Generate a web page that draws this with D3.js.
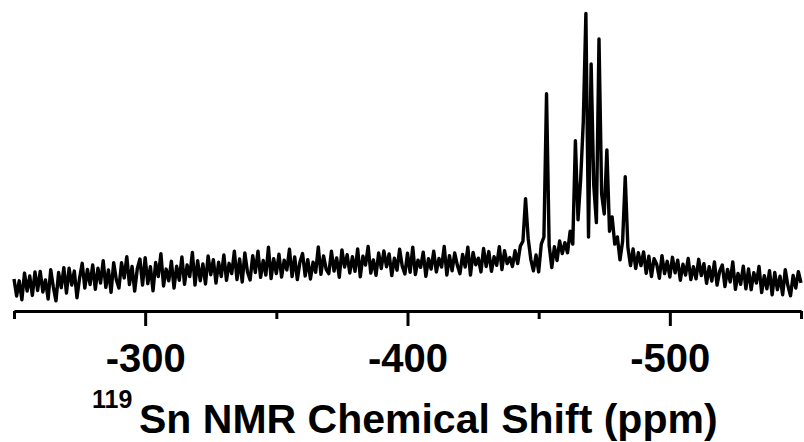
<!DOCTYPE html>
<html>
<head>
<meta charset="utf-8">
<script src="https://cdn.jsdelivr.net/npm/d3@7"></script>
<style>
  body { margin: 0; background: #fff; }
  svg { display: block; }
  .tick text { font-family: "Liberation Sans", Arial, sans-serif; font-weight: bold; }
</style>
</head>
<body>
<svg id="chart" width="804" height="442"></svg>
<script>
// chemical shift grid: -250 ppm down to -550 ppm, one point per ppm
var shiftStart = -250;
var shiftStep = -1;

// intensity (a.u.), rows of 10 ppm
var intensity = [
  7.3, 1.4, 6.7, 0.1, 9.4, 3.1, 8.4, 1.6, 9.8, 3.3,         // -250
  10.0, 2.8, 7.0, 0.3, 10.6, 4.5, -0.3, 9.6, 4.3, 11.3,     // -260
  2.4, 11.1, 5.2, 10.1, 0.8, 7.7, 12.8, 4.2, 10.7, 5.4,     // -270
  12.2, 3.7, 11.1, 5.9, 13.7, 4.4, 10.5, 2.7, 13.0, 7.1,    // -280
  4.2, 13.0, 7.7, 15.1, 5.4, 11.7, 3.1, 10.9, 14.3, 5.2,    // -290
  14.8, 5.7, 11.6, 3.2, 13.1, 8.2, 16.2, 4.9, 10.8, 6.7,    // -300
  13.5, 4.2, 11.8, 6.9, 15.0, 5.5, 12.2, 8.2, 16.6, 5.2,    // -310
  13.7, 6.7, 12.6, 5.6, 15.4, 8.8, 14.1, 5.9, 13.2, 8.2,    // -320
  15.7, 6.9, 12.8, 9.2, 17.0, 7.1, 14.3, 6.3, 16.4, 9.8,    // -330
  7.0, 15.5, 9.6, 17.0, 7.9, 13.8, 8.7, 18.4, 7.5, 14.4,    // -340
  9.2, 16.0, 8.0, 13.9, 10.5, 17.7, 8.2, 15.0, 7.1, 13.3,   // -350
  16.2, 8.4, 14.1, 7.3, 13.2, 9.7, 18.5, 9.0, 15.4, 10.7,   // -360
  9.2, 17.0, 10.1, 14.7, 7.9, 17.5, 11.5, 15.8, 9.4, 15.1,  // -370
  10.0, 17.8, 8.1, 15.3, 12.2, 18.7, 9.4, 14.0, 8.6, 16.4,  // -380
  11.0, 17.1, 11.6, 16.1, 8.5, 14.6, 10.4, 17.7, 11.8, 9.1, // -390
  16.3, 9.7, 18.4, 8.9, 13.9, 11.4, 16.7, 8.3, 14.4, 10.8,  // -400
  17.0, 9.8, 14.5, 11.5, 18.7, 8.7, 15.5, 10.2, 16.4, 12.1, // -410
  9.2, 15.9, 11.5, 18.4, 8.7, 16.6, 12.3, 14.6, 9.8, 18.0,  // -420
  11.7, 16.9, 10.0, 15.1, 12.1, 18.6, 10.6, 17.2, 12.7, 14.8,// -430
  11.7, 17.2, 12.7, 18.8, 20.5, 35.4, 21.5, 14.2, 10.2, 15.7,// -440
  9.8, 19.5, 22.0, 72.0, 19.0, 11.3, 18.6, 13.8, 20.6, 16.2, // -450
  20.0, 16.5, 24.0, 19.5, 55.6, 28.0, 42.0, 62.0, 100, 22.0, // -460
  82.4, 40.0, 27.0, 91.1, 37.0, 30.0, 52.4, 24.0, 29.0, 19.5,// -470
  22.0, 14.0, 20.5, 43.0, 18.5, 12.0, 17.8, 11.0, 16.5, 12.0,// -480
  16.8, 9.3, 15.3, 8.2, 14.4, 12.5, 7.6, 15.5, 9.2, 13.5,    // -490
  8.0, 14.9, 9.5, 13.9, 6.9, 12.5, 8.7, 14.5, 7.1, 11.6,     // -500
  7.4, 14.2, 8.5, 12.7, 5.8, 11.6, 6.6, 13.3, 5.2, 10.1,     // -510
  12.2, 4.7, 10.7, 6.3, 13.3, 3.7, 9.3, 5.5, 11.8, 3.9,      // -520
  10.8, 3.6, 9.5, 5.9, 11.7, 2.6, 8.5, 3.9, 10.2, 1.8,       // -530
  9.6, 3.6, 8.3, 1.8, 10.6, 5.0, 1.5, 8.6, 4.2, 9.9,         // -540
  6.0                                                        // -550
];

var minorTicks = [-250, -350, -450, -550];
var majorTicks = [-300, -400, -500];

var spectrum = intensity.map(function (v, i) {
  return { shift: shiftStart + i * shiftStep, value: v };
});

var svg = d3.select("#chart");

// NMR convention: shift axis runs from high to low, left to right
var x = d3.scaleLinear().domain([-250, -550]).range([14, 801]);
var y = d3.scaleLinear().domain([0, 100]).range([300, 13.5]);
var axisY = 311;

var line = d3.line()
  .x(function (d) { return x(d.shift); })
  .y(function (d) { return y(d.value); });

svg.append("path")
  .datum(spectrum)
  .attr("d", line)
  .attr("fill", "none")
  .attr("stroke", "#000")
  .attr("stroke-width", 3.4)
  .attr("stroke-linejoin", "round");

// minor ticks, no labels
svg.append("g")
  .attr("transform", "translate(0," + axisY + ")")
  .call(d3.axisBottom(x).tickValues(minorTicks).tickSize(8).tickSizeOuter(0).tickFormat(""))
  .call(function (g) {
    g.selectAll("line").attr("stroke-width", 3);
    g.select(".domain").attr("stroke-width", 3);
  });

// major ticks with labels
svg.append("g")
  .attr("transform", "translate(0," + axisY + ")")
  .call(d3.axisBottom(x).tickValues(majorTicks).tickSize(15).tickSizeOuter(0)
    .tickFormat(function (d) { return String(d); }))
  .call(function (g) {
    g.select(".domain").remove();
    g.selectAll("line").attr("stroke-width", 3);
    g.selectAll("text")
      .attr("y", 61)
      .attr("dy", null)
      .attr("fill", "#000")
      .style("font-size", "40px");
  });

// axis title with superscript mass number
var title = svg.append("g")
  .attr("font-family", "'Liberation Sans', Arial, sans-serif")
  .attr("font-weight", "bold")
  .attr("fill", "#000");
title.append("text")
  .attr("x", 92)
  .attr("y", 408)
  .attr("font-size", 25)
  .text("119");
title.append("text")
  .attr("x", 139)
  .attr("y", 433)
  .attr("font-size", 41)
  .text("Sn NMR Chemical Shift (ppm)");
</script>
</body>
</html>
